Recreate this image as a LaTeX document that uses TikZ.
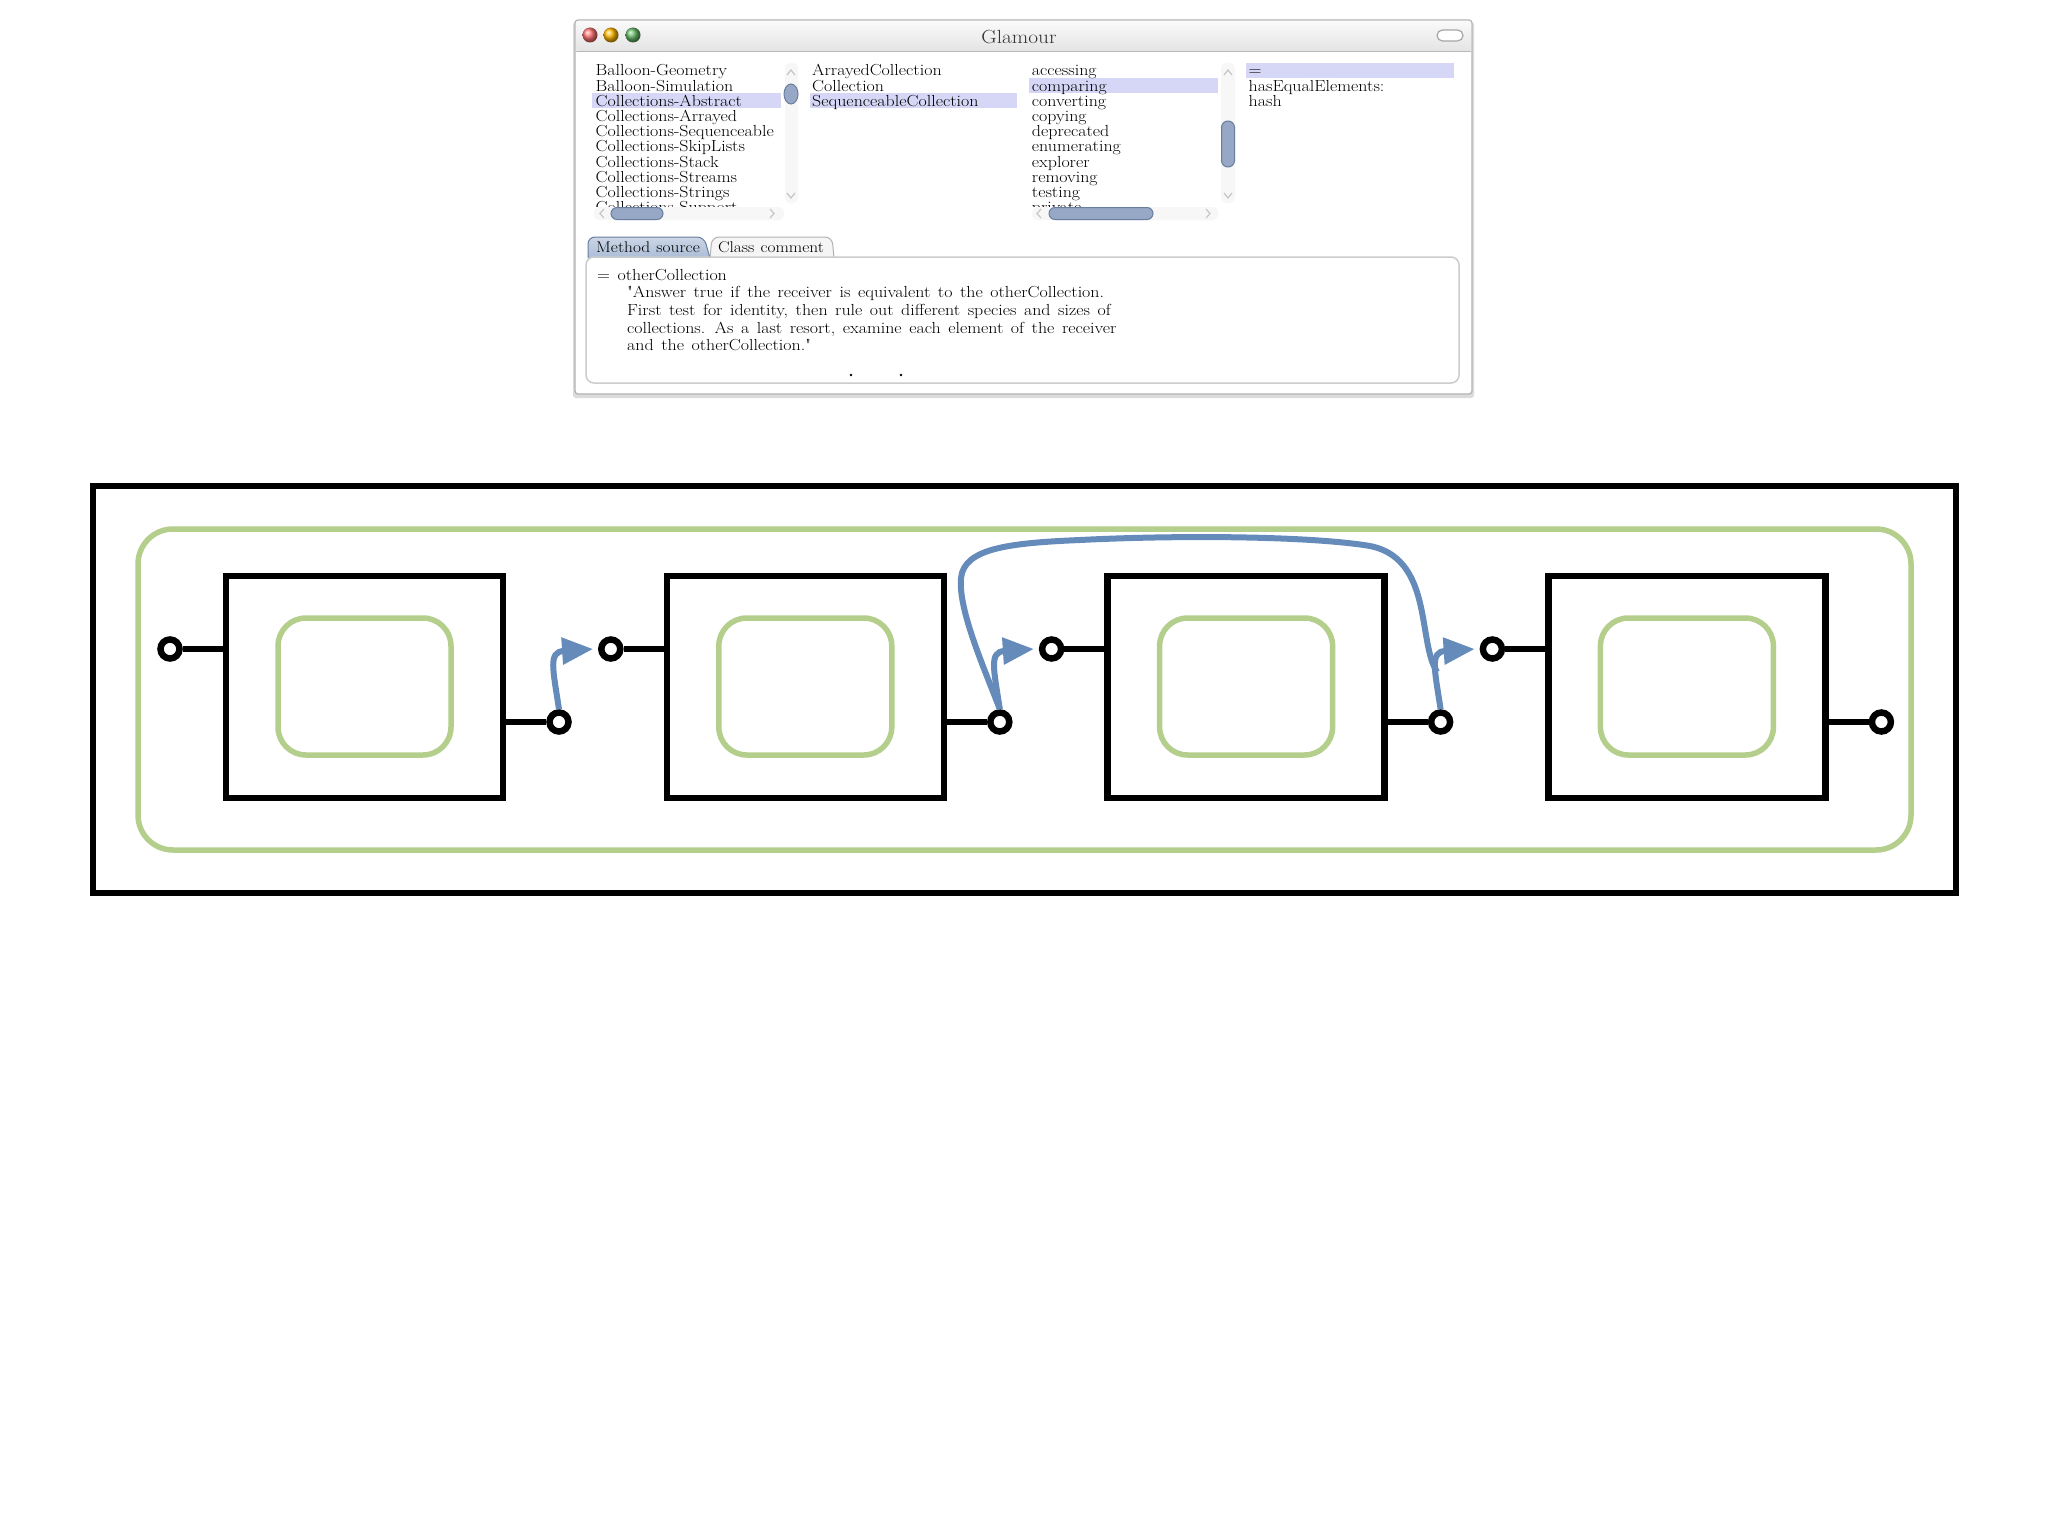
\documentclass[tikz,border=0pt]{standalone}
\usepackage{fontspec}
\usetikzlibrary{arrows.meta}
\newfontfamily\uifont{Latin Modern Roman}[FakeStretch=1.12]
\newfontfamily\codefont{Latin Modern Roman}[FakeStretch=1.12, WordSpace=1.18, Ligatures=TeXOff]
\definecolor{lgreen}{RGB}{180,206,140}
\definecolor{flowblue}{RGB}{100,139,186}
\definecolor{hilite}{RGB}{214,214,247}
\definecolor{knobfill}{RGB}{150,168,198}
\definecolor{knobedge}{RGB}{105,125,158}
\definecolor{tabsel}{RGB}{170,188,214}
\begin{document}
\begin{tikzpicture}[x=1pt,y=-1pt,
  txt/.style={anchor=base west, inner sep=0pt, font=\uifont\fontsize{16}{16}\selectfont},
  ctxt/.style={anchor=base west, inner sep=0pt, font=\codefont\fontsize{16}{16}\selectfont},
  band/.style={fill=hilite},
  knob/.style={fill=knobfill, draw=knobedge, line width=1pt},
  chev/.style={draw=gray!45, line width=1.2pt},
  frame/.style={draw, line width=6.5pt, inner sep=0pt},
  group/.style={draw=lgreen, line width=5.5pt, inner sep=0pt},
  stepbox/.style={draw, line width=6.5pt, inner sep=0pt, minimum width=277pt, minimum height=222pt},
  inner/.style={draw=lgreen, line width=5.5pt, inner sep=0pt, rounded corners=28pt, minimum width=173pt, minimum height=137pt},
  port/.style={circle, draw, line width=6.5pt, fill=white, inner sep=0pt, minimum size=19pt},
  wire/.style={line width=5.5pt},
  flow/.style={draw=flowblue, line width=6pt, -{Triangle[length=31pt,width=26pt]}},
  arc/.style={draw=flowblue, line width=6pt}
]
\useasboundingbox (0,0) rectangle (2048,1536);
\fill[white] (0,0) rectangle (2048,1536);

% ---------------- window ----------------
\fill[gray!28, rounded corners=3pt] (573,22) rectangle (1474,398);
\draw[gray!60, fill=white, line width=1.2pt, rounded corners=3pt] (575,20) rectangle (1472,394);
\shade[top color=gray!4, bottom color=gray!22, rounded corners=3pt] (576,21) rectangle (1471,52);
\draw[gray!55, line width=1pt] (576,52) -- (1471,52);
\shade[ball color=red!55] (590,35) circle (7.5pt);
\shade[ball color=orange!55!yellow] (611,35) circle (7.5pt);
\shade[ball color=green!55!black!60] (633,35) circle (7.5pt);
\draw[gray!70, fill=white, line width=1.2pt, rounded corners=5.5pt] (1437,30) rectangle (1463,41);
\node[anchor=base, inner sep=0pt, font=\uifont\fontsize{19}{19}\selectfont, text=black!80] (title) at (1019,43.5) {Glamour};

% highlight bands
\fill[band] (592,93.4) rectangle (781,108.4);
\fill[band] (810,93.4) rectangle (1017,108.4);
\fill[band] (1029,78.2) rectangle (1218,93.2);
\fill[band] (1246,63) rectangle (1454,78);

\begin{scope}
\clip (585,58) rectangle (1460,206);
\foreach \t [count=\i from 0] in {Balloon-Geometry,Balloon-Simulation,Collections-Abstract,Collections-Arrayed,Collections-Sequenceable,Collections-SkipLists,Collections-Stack,Collections-Streams,Collections-Strings,Collections-Support}
  \node[txt] (ca\i) at (595.5,{76+15.2*\i}) {\t};
\foreach \t [count=\i from 0] in {ArrayedCollection,Collection,SequenceableCollection}
  \node[txt] (cb\i) at (812,{76+15.2*\i}) {\t};
\foreach \t [count=\i from 0] in {accessing,comparing,converting,copying,deprecated,enumerating,explorer,removing,testing,private}
  \node[txt] (cc\i) at (1031.7,{76+15.2*\i}) {\t};
\foreach \t [count=\i from 0] in {=,hasEqualElements:,hash}
  \node[txt] (cd\i) at (1248.5,{76+15.2*\i}) {\t};
\end{scope}

% scrollbars column 1
\fill[gray!6, rounded corners=5pt] (785,63) rectangle (798,203);
\draw[chev] (787,75) -- (791,70) -- (795,75);
\draw[chev] (787,193) -- (791,198) -- (795,193);
\draw[knob] (791,94) ellipse (7pt and 10pt);
\fill[gray!6, rounded corners=5pt] (594,207) rectangle (784,220);
\draw[chev] (604,209) -- (600,213.5) -- (604,218);
\draw[chev] (770,209) -- (774,213.5) -- (770,218);
\draw[knob, rounded corners=6pt] (611,207.5) rectangle (663,219.5);
% scrollbars column 3
\fill[gray!6, rounded corners=5pt] (1221,63) rectangle (1235,203);
\draw[chev] (1224,75) -- (1228,70) -- (1232,75);
\draw[chev] (1224,193) -- (1228,198) -- (1232,193);
\draw[knob, rounded corners=6.5pt] (1221.5,121) rectangle (1234.5,167);
\fill[gray!6, rounded corners=5pt] (1032,207) rectangle (1218,220);
\draw[chev] (1041,209) -- (1037,213.5) -- (1041,218);
\draw[chev] (1206,209) -- (1210,213.5) -- (1206,218);
\draw[knob, rounded corners=6pt] (1049,207.5) rectangle (1153,219.5);

% tabs
\draw[gray!60, line width=1pt, fill=gray!8, rounded corners=7pt] (710,258) -- (712,237) -- (832,237) -- (834,258);
\draw[knobedge, line width=1pt, top color=tabsel!60, bottom color=tabsel, rounded corners=7pt] (588,258) -- (588,237) -- (704,237) -- (710,258);
\node[anchor=base, inner sep=0pt, font=\uifont\fontsize{15.5}{15.5}\selectfont] (tab1) at (648,252.5) {Method source};
\node[anchor=base, inner sep=0pt, font=\uifont\fontsize{15.5}{15.5}\selectfont] (tab2) at (771,252.5) {Class comment};

% text pane
\draw[gray!40, fill=white, line width=1.5pt, rounded corners=8pt] (586,257) rectangle (1459,383);
\node[ctxt] (l0) at (597,280) {= otherCollection};
\node[ctxt] (l1) at (627,297.7) {"Answer true if the receiver is equivalent to the otherCollection.};
\node[ctxt] (l2) at (627,315.4) {First test for identity, then rule out different species and sizes of};
\node[ctxt] (l3) at (627,333.1) {collections. As a last resort, examine each element of the receiver};
\node[ctxt] (l4) at (627,350.8) {and the otherCollection."};
\fill (851,375) circle (1.4pt);
\fill (901,375) circle (1.4pt);

% ---------------- diagram ----------------
\node[frame, minimum width=1863pt, minimum height=407pt] (outer) at (1024.5,689.5) {};
\node[group, rounded corners=35pt, minimum width=1773pt, minimum height=321pt] (grp) at (1024.5,689.5) {};

\foreach \k in {1,2,3,4} {
  \pgfmathsetmacro{\cx}{364.5+440.8*(\k-1)}
  \node[stepbox] (b\k) at (\cx,687) {};
  \node[inner] (g\k) at (\cx,686.5) {};
  \node[port] (i\k) at (\cx-194.5,649) {};
  \node[port] (o\k) at (\cx+194.5,722) {};
  \draw[wire] (i\k.east) -- (i\k -| b\k.west);
  \draw[wire] (o\k -| b\k.east) -- (o\k.west);
}

\coordinate (m3) at (1437,672);
\draw[arc] (o2.north) .. controls (985,670) and (958,610) .. (961,578)
  .. controls (964,548) and (1010,543) .. (1080,540)
  .. controls (1180,535) and (1310,536) .. (1370,546)
  .. controls (1415,555) and (1420,600) .. (1426,635)
  .. controls (1429,652) and (1431,662) .. (m3);
\draw[flow] (o1.north) .. controls +(-6,-40) and +(-45,3) .. ([xshift=-5pt]i2.west);
\draw[flow] (o2.north) .. controls +(-6,-40) and +(-45,3) .. ([xshift=-5pt]i3.west);
\draw[flow] (o3.north) .. controls +(-6,-40) and +(-45,3) .. ([xshift=-5pt]i4.west);
\end{tikzpicture}
\end{document}
